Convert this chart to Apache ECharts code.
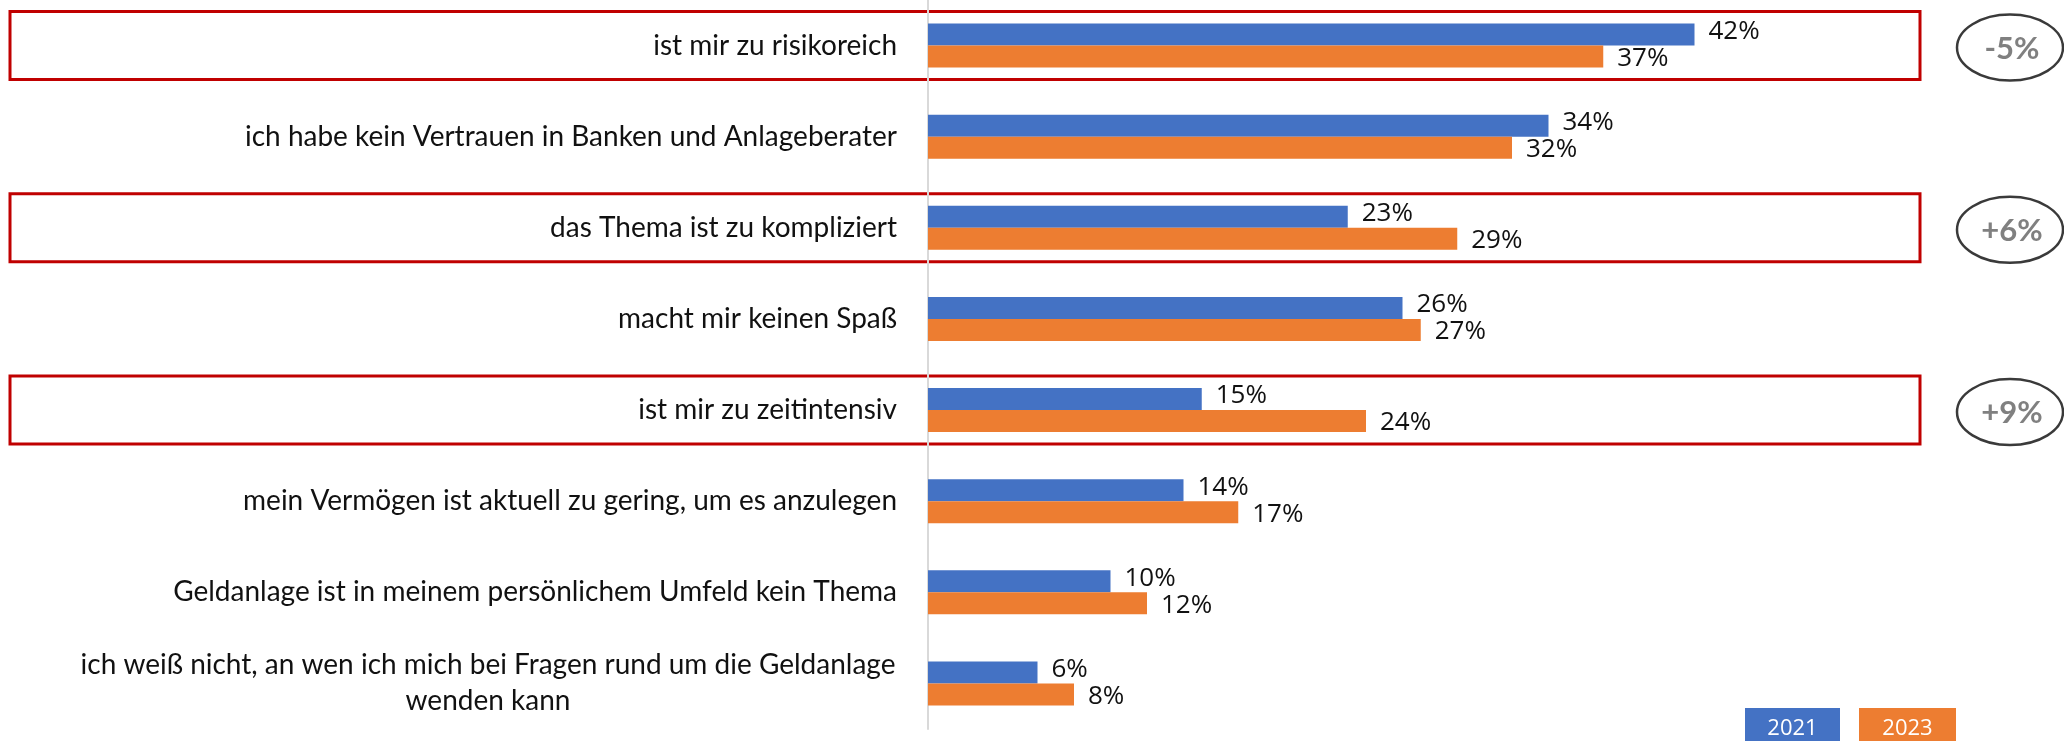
<!DOCTYPE html>
<html lang="de">
<head>
    <meta charset="UTF-8">
    <title>Gründe gegen Geldanlage</title>
    <style>
        html, body { margin: 0; padding: 0; background: #fff; }
        #chart { width: 2064px; height: 741px; }
    </style>
</head>
<body>
<div id="chart"></div>
<script src="https://cdn.jsdelivr.net/npm/echarts@6/dist/echarts.min.js"></script>
<script>
    // Kategorien (von oben nach unten)
    var categories = [
        'ist mir zu risikoreich',
        'ich habe kein Vertrauen in Banken und Anlageberater',
        'das Thema ist zu kompliziert',
        'macht mir keinen Spaß',
        'ist mir zu zeitintensiv',
        'mein Vermögen ist aktuell zu gering, um es anzulegen',
        'Geldanlage ist in meinem persönlichem Umfeld kein Thema',
        'ich weiß nicht, an wen ich mich bei Fragen rund um die Geldanlage\nwenden kann'
    ];
    var values2021 = [42, 34, 23, 26, 15, 14, 10, 6];
    var values2023 = [37, 32, 29, 27, 24, 17, 12, 8];
    // markierte Zeilen + Veränderung
    var markedRows = [0, 2, 4];
    var deltas = ['-5%', '+6%', '+9%'];

    var blue = '#4472C4';
    var orange = '#ED7D31';

    var myChart = echarts.init(document.getElementById('chart'));

    var option = {
        animation: false,
        grid: {
            left: 928,
            right: 41,
            top: -1,
            bottom: 12
        },
        xAxis: {
            type: 'value',
            min: 0,
            max: 60,
            show: false,
            splitLine: { show: false }
        },
        yAxis: {
            type: 'category',
            inverse: true,
            data: categories,
            axisTick: { show: false },
            axisLine: { lineStyle: { color: '#d9d9d9', width: 2 } },
            axisLabel: {
                margin: 31,
                fontFamily: 'Lato',
                fontSize: 28,
                color: '#111',
                lineHeight: 36,
                formatter: function (v) {
                    if (v.indexOf('\n') < 0) return v;
                    return v.split('\n').map(function (s) { return '{c|' + s + '}'; }).join('\n');
                },
                rich: {
                    c: { width: 818, align: 'center', fontFamily: 'Lato', fontSize: 28, lineHeight: 36, color: '#111' }
                }
            }
        },
        series: [
            {
                name: '2021',
                type: 'bar',
                data: values2021,
                barWidth: 22,
                barGap: '0%',
                itemStyle: { color: blue },
                label: {
                    show: true,
                    position: 'right',
                    distance: 14,
                    offset: [0, -3],
                    formatter: '{c}%',
                    fontFamily: 'Open Sans',
                    fontSize: 26,
                    color: '#111'
                }
            },
            {
                name: '2023',
                type: 'bar',
                data: values2023,
                barWidth: 22,
                barGap: '0%',
                itemStyle: { color: orange },
                label: {
                    show: true,
                    position: 'right',
                    distance: 14,
                    offset: [0, 2],
                    formatter: '{c}%',
                    fontFamily: 'Open Sans',
                    fontSize: 26,
                    color: '#111'
                }
            }
        ]
    };
    myChart.setOption(option);

    // rote Rahmen und Ellipsen an den markierten Zeilen
    var graphics = [];
    markedRows.forEach(function (row, i) {
        var cy = myChart.convertToPixel({ yAxisIndex: 0 }, categories[row]);
        graphics.push({
            type: 'rect',
            shape: { x: 10, y: cy - 34, width: 1910, height: 68 },
            style: { fill: 'none', stroke: '#C00000', lineWidth: 3 }
        });
        graphics.push({
            type: 'ellipse',
            shape: { cx: 2010, cy: cy + 2, rx: 53, ry: 33 },
            style: { fill: '#fff', stroke: '#3a3a3a', lineWidth: 2.5 }
        });
        graphics.push({
            type: 'text',
            x: 2012,
            y: cy + 3,
            style: {
                text: deltas[i],
                fill: '#808080',
                font: 'bold 31px Lato',
                align: 'center',
                verticalAlign: 'middle'
            }
        });
    });

    // Legende unten rechts
    var legendItems = [['2021', blue, 1745, 95], ['2023', orange, 1859, 97]];
    legendItems.forEach(function (it) {
        graphics.push({
            type: 'rect',
            shape: { x: it[2], y: 708, width: it[3], height: 40 },
            style: { fill: it[1] }
        });
        graphics.push({
            type: 'text',
            x: it[2] + it[3] / 2,
            y: 729,
            style: {
                text: it[0],
                fill: '#fff',
                font: '22px "Open Sans"',
                align: 'center',
                verticalAlign: 'middle'
            }
        });
    });

    myChart.setOption({ graphic: graphics });
</script>
</body>
</html>
